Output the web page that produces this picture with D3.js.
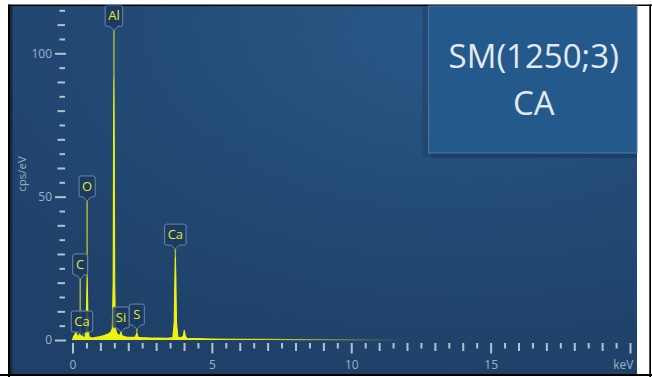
<!DOCTYPE html>
<html>
<head>
<meta charset="utf-8">
<script src="https://cdn.jsdelivr.net/npm/d3@7/dist/d3.min.js"></script>
<style>
  html, body { margin: 0; padding: 0; background: #ffffff; }
  svg { display: block; }
</style>
</head>
<body>
<svg id="chart" width="652" height="377"></svg>
<script>
// ---------- DATA ----------
const titleLines = ["SM(1250;3)", "CA"];
const xTickLabels = ["0", "5", "10", "15", "keV"];
const xLabelValues = [0, 5, 10, 15, 20];
const yTickLabelValues = [0, 50, 100];
const yAxisTitle = "cps/eV";

// spectrum outline (keV, cps/eV)
const spectrumEnergy = [0, 0.04, 0.08, 0.12, 0.16, 0.2, 0.24, 0.262, 0.277, 0.292, 0.315, 0.341, 0.365, 0.4, 0.45,
  0.49, 0.51, 0.525, 0.54, 0.56, 0.6, 0.7, 0.8, 0.9, 1.0, 1.1, 1.2, 1.3, 1.38, 1.43, 1.46, 1.475, 1.486, 1.497,
  1.512, 1.54, 1.58, 1.64, 1.70, 1.725, 1.74, 1.755, 1.78, 1.85, 1.95, 2.05, 2.15, 2.25, 2.29, 2.307, 2.325, 2.36,
  2.5, 2.8, 3.1, 3.4, 3.6, 3.65, 3.675, 3.69, 3.705, 3.73, 3.78, 3.9, 3.98, 4.01, 4.04, 4.1, 4.5, 5, 6, 7, 8, 9,
  10, 11, 11.8];
const spectrumCounts = [0, 1.2, 1.8, 2.5, 1.8, 1.2, 1.5, 2.5, 4, 2.5, 1.5, 2.2, 1.2, 0.9, 1.0,
  3, 14, 22, 14, 3, 1.0, 0.7, 0.8, 1.0, 1.2, 1.5, 1.8, 2.2, 2.8, 4, 20, 70, 92, 70,
  20, 4, 2.5, 1.8, 1.6, 2.2, 2.8, 2.2, 1.5, 1.2, 1.0, 0.9, 0.9, 1.0, 1.8, 2.6, 1.8, 0.9,
  0.8, 0.7, 0.7, 0.6, 0.8, 6, 22, 29, 22, 6, 1.0, 0.7, 1.5, 3.5, 1.5, 0.6, 0.45, 0.35, 0.25, 0.2, 0.15, 0.1,
  0.06, 0.03, 0];

// element labels: name, line energy (keV), level of the label tip (cps/eV)
const labelNames = ["Al", "O", "C", "Ca", "Ca", "Si", "S"];
const labelEnergies = [1.486, 0.525, 0.277, 3.69, 0.341, 1.74, 2.307];
const labelLevels = [108, 48.5, 21.3, 31.7, 1.4, 2.8, 3.8];

// ---------- DRAW ----------
const svg = d3.select("#chart");
const W = 652, H = 377;
const plot = { x0: 10, y0: 5.5, x1: 637, y1: 374 };

const x = d3.scaleLinear().domain([0, 20]).range([72.5, 630]);
const y = d3.scaleLinear().domain([0, 100]).range([340, 53.3]);

const defs = svg.append("defs");
const bg = defs.append("radialGradient").attr("id", "bgGrad")
  .attr("cx", "72%").attr("cy", "5%").attr("r", "95%");
bg.append("stop").attr("offset", "0%").attr("stop-color", "#2a5888");
bg.append("stop").attr("offset", "55%").attr("stop-color", "#234a76");
bg.append("stop").attr("offset", "100%").attr("stop-color", "#1f4169");

const fade = defs.append("linearGradient").attr("id", "fadeGrad")
  .attr("gradientUnits", "userSpaceOnUse")
  .attr("x1", x(5)).attr("x2", x(11.8)).attr("y1", 0).attr("y2", 0);
fade.append("stop").attr("offset", "0%").attr("stop-color", "#eef20c").attr("stop-opacity", 1);
fade.append("stop").attr("offset", "100%").attr("stop-color", "#eef20c").attr("stop-opacity", 0.05);

defs.append("clipPath").attr("id", "plotClip").append("rect")
  .attr("x", plot.x0).attr("y", plot.y0).attr("width", plot.x1 - plot.x0).attr("height", plot.y1 - plot.y0);

// background
svg.append("rect").attr("x", plot.x0).attr("y", plot.y0)
  .attr("width", plot.x1 - plot.x0).attr("height", plot.y1 - plot.y0)
  .attr("fill", "url(#bgGrad)");
// dark strip at the left edge
svg.append("rect").attr("x", 10).attr("y", plot.y0).attr("width", 2.5).attr("height", plot.y1 - plot.y0)
  .attr("fill", "#172a42");

// frame lines
svg.append("rect").attr("x", 8).attr("y", 4.5).attr("width", W - 8).attr("height", 1.5).attr("fill", "#000");
svg.append("rect").attr("x", 8).attr("y", 4.5).attr("width", 2).attr("height", H - 4.5).attr("fill", "#000");
svg.append("rect").attr("x", 649.3).attr("y", 4.5).attr("width", 1.7).attr("height", H - 4.5).attr("fill", "#000");
svg.append("rect").attr("x", 0).attr("y", 374).attr("width", W).attr("height", 2).attr("fill", "#000");

// title box
const box = { x: 428.5, y: 6, w: 208.5, h: 147 };
svg.append("rect").attr("x", box.x - 6).attr("y", box.y).attr("width", 6).attr("height", box.h + 4)
  .attr("fill", "#1d3e63").attr("opacity", 0.5);
svg.append("rect").attr("x", box.x + 2).attr("y", box.y + box.h).attr("width", box.w - 2).attr("height", 5)
  .attr("fill", "#1b3a5e").attr("opacity", 0.7);
svg.append("rect").attr("x", box.x).attr("y", box.y).attr("width", box.w).attr("height", box.h)
  .attr("fill", "#23598b").attr("stroke", "#4a78a6").attr("stroke-width", 1);
svg.append("g").selectAll("text").data(titleLines).join("text")
  .attr("x", box.x + box.w / 2 + 1)
  .attr("y", (d, i) => 68 + i * 47)
  .attr("text-anchor", "middle")
  .attr("font-family", "'Open Sans', 'Noto Sans', sans-serif")
  .attr("font-size", 33)
  .attr("fill", "#e2e9f1")
  .text(d => d);

// Y axis
const tickColor = "#b4c1cf";
const labelColor = "#9db1c6";
const yTicks = d3.range(0, 116, 5);
const yAxis = d3.axisLeft(y).tickValues(yTicks)
  .tickFormat(d => yTickLabelValues.includes(d) ? String(d) : "")
  .tickSize(0).tickPadding(0);
const gy = svg.append("g").attr("transform", "translate(66,0)").call(yAxis);
gy.select(".domain").remove();
gy.selectAll(".tick line")
  .attr("x1", d => d % 50 === 0 ? -11 : (d % 10 === 0 ? -8.5 : -6.5))
  .attr("x2", d => d % 50 === 0 ? 0 : -1)
  .attr("stroke", tickColor).attr("stroke-width", 2);
gy.selectAll(".tick text")
  .attr("x", -14)
  .attr("font-family", "'Open Sans', 'Noto Sans', sans-serif")
  .attr("font-size", 12)
  .attr("fill", labelColor);

svg.append("text")
  .attr("transform", "translate(25.5,174) rotate(-90)")
  .attr("text-anchor", "middle")
  .attr("font-family", "'Open Sans', 'Noto Sans', sans-serif")
  .attr("font-size", 11.5)
  .attr("fill", labelColor)
  .text(yAxisTitle);

// X axis
const xTicks = d3.range(0, 20.001, 0.5);
const xAxis = d3.axisBottom(x).tickValues(xTicks)
  .tickFormat(d => {
    const k = xLabelValues.indexOf(d);
    return k >= 0 ? xTickLabels[k] : "";
  })
  .tickSize(0).tickPadding(0);
const gx = svg.append("g").attr("transform", "translate(0,343)").call(xAxis);
gx.select(".domain").remove();
gx.selectAll(".tick line")
  .attr("y1", 0)
  .attr("y2", d => d % 5 === 0 ? 10.5 : (d % 1 === 0 ? 8 : 5.5))
  .attr("stroke", tickColor).attr("stroke-width", 2);
gx.selectAll(".tick text")
  .attr("y", 17)
  .attr("font-family", "'Open Sans', 'Noto Sans', sans-serif")
  .attr("font-size", 12)
  .attr("fill", labelColor)
  .attr("text-anchor", d => d === 20 ? "end" : "middle")
  .attr("dx", d => d === 20 ? 3 : 0);

// Spectrum
const spectrum = spectrumEnergy.map((e, i) => ({ e, c: spectrumCounts[i] }));
const plotG = svg.append("g").attr("clip-path", "url(#plotClip)");
const yellow = "#eef20c";

// Label connectors (behind the spectrum)
const labels = labelNames.map((n, i) => {
  const e = labelEnergies[i];
  const near = spectrum.filter(p => Math.abs(p.e - e) <= 0.03);
  const peak = d3.max(near, p => p.c) || 0;
  return { name: n, e, level: labelLevels[i], peak };
});
const conG = plotG.append("g");
labels.forEach(L => {
  const cx = x(L.e), tip = y(L.level);
  conG.append("line")
    .attr("x1", cx).attr("x2", cx).attr("y1", tip).attr("y2", y(L.peak))
    .attr("stroke", "#c4c82c").attr("stroke-opacity", 0.9).attr("stroke-width", 1.4);
});

plotG.append("path").datum(spectrum)
  .attr("d", d3.area().x(d => x(d.e)).y0(y(0)).y1(d => y(d.c)))
  .attr("fill", "url(#fadeGrad)");
plotG.append("path").datum(spectrum)
  .attr("d", d3.line().x(d => x(d.e)).y(d => y(d.c)))
  .attr("fill", "none").attr("stroke", "url(#fadeGrad)").attr("stroke-width", 1.2);

// Label boxes
const lblG = plotG.append("g");
labels.forEach(L => {
  const cx = x(L.e), tip = y(L.level);
  const g = lblG.append("g");
  const t = g.append("text")
    .attr("x", cx).attr("text-anchor", "middle")
    .attr("font-family", "'Open Sans', 'Noto Sans', sans-serif")
    .attr("font-size", 13).attr("fill", "#e8ea3a")
    .text(L.name);
  const tw = t.node().getComputedTextLength();
  const bw = Math.max(15, tw + 6), bh = 21, ph = 4;
  const bottom = tip - ph, top = bottom - bh, left = cx - bw / 2, right = cx + bw / 2;
  const r = 2;
  const p = d3.path();
  p.moveTo(left + r, top);
  p.lineTo(right - r, top); p.quadraticCurveTo(right, top, right, top + r);
  p.lineTo(right, bottom - r); p.quadraticCurveTo(right, bottom, right - r, bottom);
  p.lineTo(cx + 4, bottom); p.lineTo(cx, tip); p.lineTo(cx - 4, bottom);
  p.lineTo(left + r, bottom); p.quadraticCurveTo(left, bottom, left, bottom - r);
  p.lineTo(left, top + r); p.quadraticCurveTo(left, top, left + r, top);
  p.closePath();
  g.insert("path", "text").attr("d", p.toString())
    .attr("fill", "#1a3a5f").attr("fill-opacity", 0.85)
    .attr("stroke", "#6f88a4").attr("stroke-width", 1);
  t.attr("y", top + bh / 2 + 4.6);
});
</script>
</body>
</html>
